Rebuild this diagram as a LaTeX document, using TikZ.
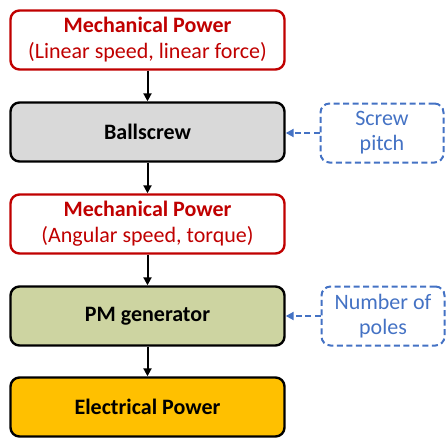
\documentclass[tikz,border=0pt]{standalone}
\usepackage{fontspec}
\setmainfont{Carlito}
\usetikzlibrary{arrows.meta}
\definecolor{myred}{HTML}{C00000}
\definecolor{mygray}{HTML}{D9D9D9}
\definecolor{myolive}{HTML}{CDD4A1}
\definecolor{myorange}{HTML}{FFC000}
\definecolor{myblue}{HTML}{4472C4}
\begin{document}
\begin{tikzpicture}[x=1pt,y=-1pt,
  box/.style={draw, line width=2.4pt, rounded corners=9pt, minimum width=274pt, minimum height=59pt, align=center, inner sep=0pt, font=\fontsize{22}{26}\selectfont},
  redbox/.style={box, draw=myred, fill=white, text=myred},
  sidebox/.style={draw=myblue, dash pattern=on 6pt off 3.5pt, line width=2pt, rounded corners=9pt, minimum width=123pt, minimum height=59pt, align=center, inner sep=0pt, text=myblue, font=\fontsize{22}{25}\selectfont},
  arr/.style={-{Triangle[length=8pt,width=8pt]}, line width=2pt},
  darr/.style={-{Triangle[length=8pt,width=8pt]}, line width=2pt, draw=myblue, dash pattern=on 6pt off 3.5pt}]
\useasboundingbox (0,0) rectangle (446,439);
\node[redbox] (m1) at (147.5,40) {\textbf{Mechanical Power}\\(Linear speed, linear force)};
\node[box, fill=mygray] (bs) at (147.5,132) {\textbf{Ballscrew}};
\node[redbox] (m2) at (147.5,224) {\textbf{Mechanical Power}\\(Angular speed, torque)};
\node[box, fill=myolive] (pm) at (147.5,316) {\textbf{PM generator}};
\node[box, fill=myorange] (ep) at (147.5,407) {\textbf{Electrical Power}};
\node[sidebox] (sp) at (382,133) {Screw\\pitch};
\node[sidebox] (np) at (383,316) {Number of\\poles};
\draw[arr] (m1) -- (bs);
\draw[arr] (bs) -- (m2);
\draw[arr] (m2) -- (pm);
\draw[arr] (pm) -- (ep);
\draw[darr] (sp.west) -- (bs.east |- sp.west);
\draw[darr] (np.west) -- (pm.east |- np.west);
\end{tikzpicture}
\end{document}
